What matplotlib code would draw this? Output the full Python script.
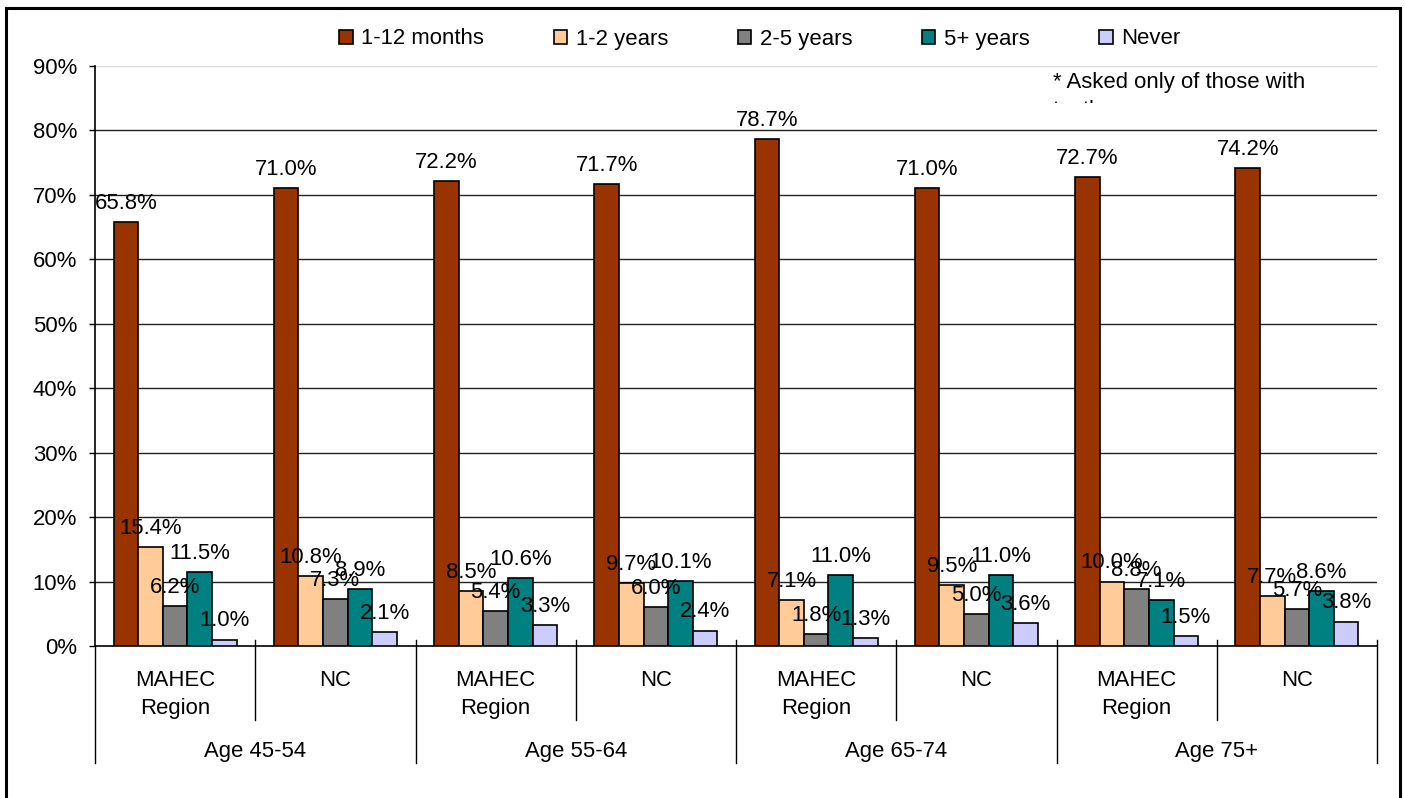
import numpy as np
import matplotlib
matplotlib.use("Agg")
import matplotlib.pyplot as plt
from matplotlib.lines import Line2D
from matplotlib.transforms import blended_transform_factory, Bbox

plt.rcParams['font.family'] = ['Liberation Sans', 'DejaVu Sans']

# data
series = ['1-12 months', '1-2 years', '2-5 years', '5+ years', 'Never']
colors = ['#993300', '#FFCC99', '#808080', '#008080', '#CCCCFF']
places = ['MAHEC\nRegion', 'NC'] * 4
ages = ['Age 45-54', 'Age 55-64', 'Age 65-74', 'Age 75+']
months_1_12 = [65.8, 71.0, 72.2, 71.7, 78.7, 71.0, 72.7, 74.2]
years_1_2 = [15.4, 10.8, 8.5, 9.7, 7.1, 9.5, 10.0, 7.7]
years_2_5 = [6.2, 7.3, 5.4, 6.0, 1.8, 5.0, 8.8, 5.7]
years_5_plus = [11.5, 8.9, 10.6, 10.1, 11.0, 11.0, 7.1, 8.6]
never = [1.0, 2.1, 3.3, 2.4, 1.3, 3.6, 1.5, 3.8]
values = [months_1_12, years_1_2, years_2_5, years_5_plus, never]

W, H = 1405, 798
fig = plt.figure(figsize=(W / 100, H / 100), dpi=100)
# axes box in pixels: left 95, right 1377, top 66, bottom 646
ax = fig.add_axes([95 / W, (H - 646) / H, (1377 - 95) / W, (646 - 66) / H])

def py(ypx):
    # pixel row -> axes fraction (0 at the 0% line)
    return -(ypx - 646) / 580

fs = 15.9
x = np.arange(len(places))
bw = 0.1535
for i, (name, vals) in enumerate(zip(series, values)):
    pos = x + (i - 2) * bw
    ax.bar(pos, vals, bw, color=colors[i], edgecolor='black', linewidth=1.2,
           label=name, zorder=3)
    for xp, v in zip(pos, vals):
        ax.annotate(f'{v:.1f}%', (xp, v), xytext=(0, 9.4), textcoords='offset points',
                    ha='center', va='baseline', fontsize=fs, zorder=5)

# gridlines
for g in range(10, 90, 10):
    ax.axhline(g, color='#222222', linewidth=1, zorder=1)
ax.axhline(90, color='#d8d8d8', linewidth=1, zorder=1)

ax.set_xlim(-0.5, len(places) - 0.5)
ax.set_ylim(0, 90)
ax.set_yticks(range(0, 91, 10))
ax.set_yticklabels([f'{t}%' for t in range(0, 91, 10)], fontsize=fs)
ax.tick_params(axis='y', length=4.3, width=1, pad=8.6)
ax.set_xticks([])
for s in ['top', 'right']:
    ax.spines[s].set_visible(False)
ax.spines['left'].set_linewidth(1.2)
ax.spines['bottom'].set_linewidth(1.2)

# category axis: labels and divider lines
tr = blended_transform_factory(ax.transData, ax.transAxes)
for k in range(len(places) + 1):
    xb = k - 0.5
    if k % 2 == 0:
        y0, y1 = py(640) if 0 < k < len(places) else 0, py(763)
    else:
        y0, y1 = py(640), py(720)
    if k == len(places):
        y0 = py(640)
    ax.add_line(Line2D([xb, xb], [y0, y1], transform=tr, color='black',
                       linewidth=1, clip_on=False))
for k, lab in enumerate(places):
    for j, line in enumerate(lab.split('\n')):
        ax.text(k, py(686 + 28 * j), line, transform=tr, ha='center',
                va='baseline', fontsize=fs)
for k, lab in enumerate(ages):
    ax.text(2 * k + 0.5, py(757), lab, transform=tr, ha='center',
            va='baseline', fontsize=fs)

# legend
ax.legend(loc='center', bbox_to_anchor=(760 / W, 1 - 39 / H),
          bbox_transform=fig.transFigure, ncol=5, frameon=False, fontsize=fs,
          handlelength=0.6, handleheight=0.6, handletextpad=0.4,
          columnspacing=3.15)

# note text (second line cut off in the original)
fig.text(1053 / W, 1 - 88 / H, '* Asked only of those with', fontsize=fs,
         ha='left', va='baseline')
t2 = fig.text(1053 / W, 1 - 115.5 / H, 'teeth', fontsize=fs, ha='left',
              va='baseline')
t2.set_clip_box(Bbox.from_extents(1000, H - 103, 1300, H - 60))
t2.set_clip_on(True)

# outer frame
for xs, ys in [([6.5, 6.5], [8, H + 5]), ([6.5, 1400], [8, 8]),
               ([1400, 1400], [8, H + 5])]:
    fig.add_artist(Line2D([v / W for v in xs], [1 - v / H for v in ys],
                          transform=fig.transFigure, color='black',
                          linewidth=2.2))

fig.savefig('out.png', dpi=100)
